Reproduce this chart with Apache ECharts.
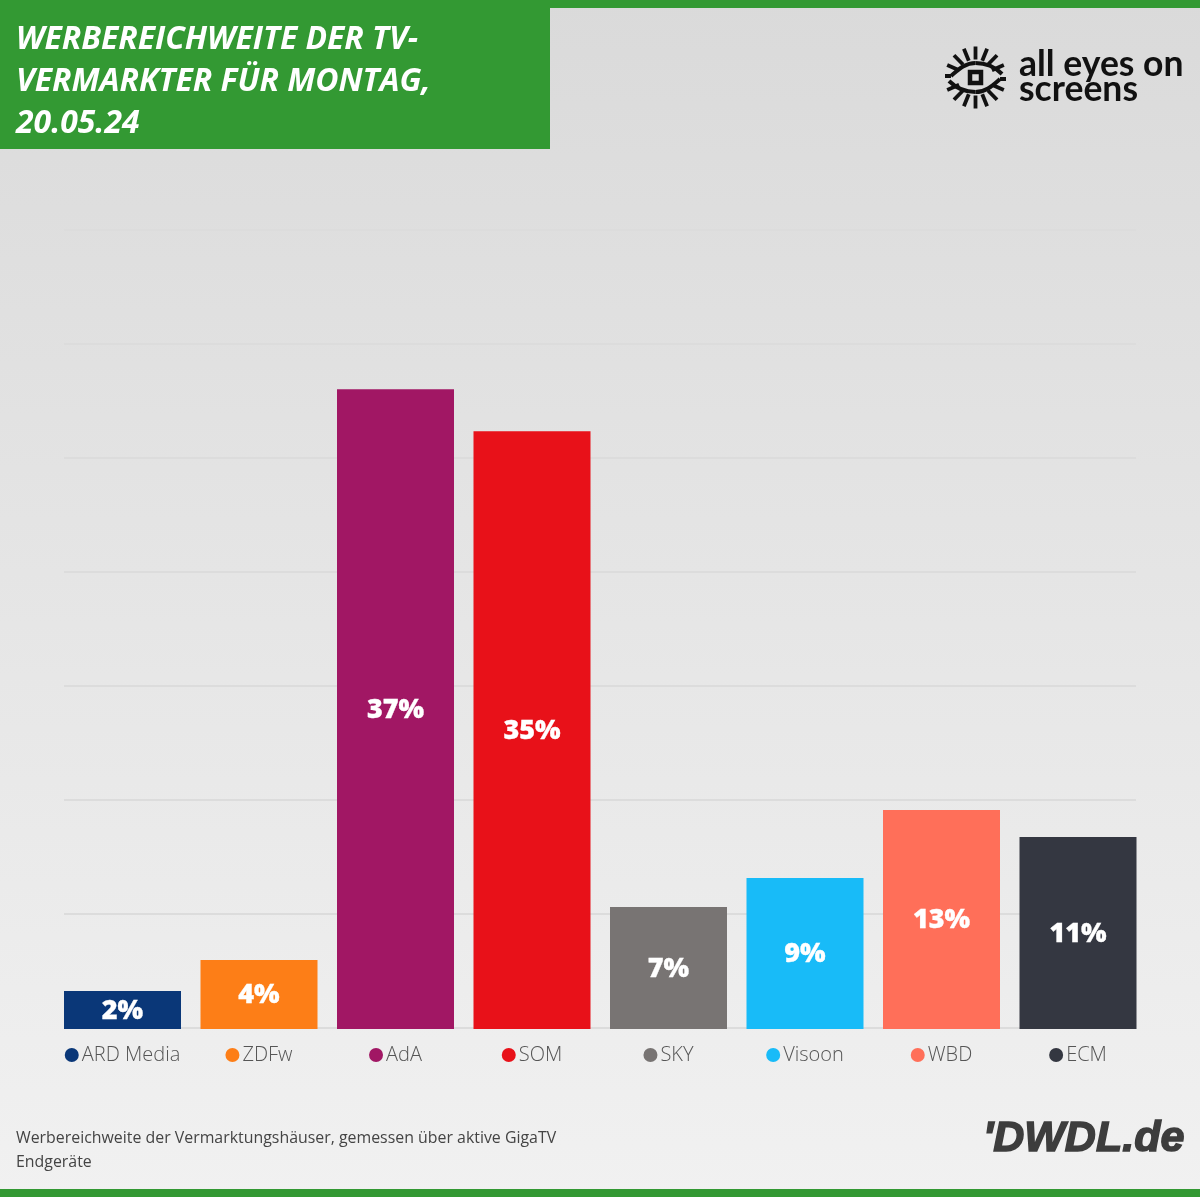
<!DOCTYPE html>
<html><head><meta charset="utf-8">
<style>html,body{margin:0;padding:0;background:#eee}#c{width:1200px;height:1197px}</style>
<script src="https://cdn.jsdelivr.net/npm/echarts@6/dist/echarts.min.js"></script>
</head><body><div id="c"></div>
<script>
const categories = ['ARD Media','ZDFw','AdA','SOM','SKY','Visoon','WBD','ECM'];
const values = [2.22,4.04,37.41,34.96,7.14,8.83,12.81,11.23];
const barLabels = ['2%','4%','37%','35%','7%','9%','13%','11%'];
const colors = ['#0a3778','#fd7e17','#a11764','#e81119','#787473','#18bbf8','#ff6f59','#343741'];
const titleLines = ['WERBEREICHWEITE DER TV-','VERMARKTER FÜR MONTAG,','20.05.24'];
const noteLines = ['Werbereichweite der Vermarktungshäuser, gemessen über aktive GigaTV','Endgeräte'];
const logoLines = ['all eyes on','screens'];
const brand = "'DWDL.de";

const chart = echarts.init(document.getElementById('c'), null, {renderer:'canvas', width:1200, height:1197});
const rich = {t:{fontFamily:'Open Sans',fontWeight:300,fontSize:20,color:'#555',padding:[0,0,0,3]}};
colors.forEach((c,i)=>{rich['d'+i]={width:14,height:14,borderRadius:7,backgroundColor:c};});

// eye logo pieces
const cx=975.5, cy=77.5, logo=[];
const ink='#111';
[-66,-44,-22,0,22,44,66].forEach(d=>{
  const a=(d-90)*Math.PI/180, r0=18, r1=31;
  [1,-1].forEach(s=>logo.push({type:'line',shape:{x1:cx+s*r0*Math.cos(a),y1:cy+s*r0*Math.sin(a),x2:cx+s*r1*Math.cos(a),y2:cy+s*r1*Math.sin(a)},style:{stroke:ink,lineWidth:3.8}}));
});
const curve=(x1,y1,cpx1,cpy1,cpx2,cpy2,x2,y2)=>({type:'bezierCurve',shape:{x1,y1,cpx1,cpy1,cpx2,cpy2,x2,y2},style:{fill:'none',stroke:ink,lineWidth:4}});
logo.push({type:'line',shape:{x1:945,y1:76,x2:951,y2:76},style:{stroke:ink,lineWidth:4}});
logo.push(curve(951,76,958,70,965,63,975.5,63));
logo.push(curve(975.5,63,987,63,996,68,1002,74));
logo.push({type:'line',shape:{x1:1006,y1:79,x2:1000,y2:79},style:{stroke:ink,lineWidth:4}});
logo.push(curve(1000,79,993,85,986,92,975.5,92));
logo.push(curve(975.5,92,964,92,955,87,949,81));
logo.push({type:'rect',shape:{x:cx-5.5,y:cy-5.5,width:11,height:11},style:{fill:'none',stroke:ink,lineWidth:4.5}});

chart.setOption({
  animation:false,
  backgroundColor:{type:'linear',x:0,y:0,x2:0,y2:1,colorStops:[{offset:0,color:'#dadada'},{offset:1,color:'#f1f1f1'}]},
  grid:[
    {left:54.25,top:231,width:1092,height:798},
    {left:64,top:230,width:1072,height:798}
  ],
  xAxis:[
    {type:'category',gridIndex:0,data:categories,axisLine:{show:false},axisTick:{show:false},
     axisLabel:{margin:16,interval:0,rich,formatter:(v)=>{const i=categories.indexOf(v);return `{d${i}|}{t|${v}}`;}}},
    {type:'category',gridIndex:1,data:categories,show:false}
  ],
  yAxis:[
    {type:'value',gridIndex:0,min:0,max:46.67,interval:6.667,show:false,splitLine:{show:false}},
    {type:'value',gridIndex:1,min:0,max:46.67,interval:6.667,axisLine:{show:false},axisTick:{show:false},axisLabel:{show:false},
     splitLine:{show:true,lineStyle:{color:'#dcdcdc',width:2}}}
  ],
  series:[
    {type:'bar',xAxisIndex:1,yAxisIndex:1,data:[],silent:true},
    {type:'bar',xAxisIndex:0,yAxisIndex:0,barWidth:117,
     data:values.map((v,i)=>({value:v,itemStyle:{color:colors[i]}})),
     label:{show:true,position:'inside',offset:[0,1],formatter:(p)=>barLabels[p.dataIndex],color:'#fff',fontFamily:'Open Sans',fontWeight:800,fontSize:27,textBorderColor:'#fff',textBorderWidth:0.3}}
  ],
  graphic:{elements:[
    {type:'rect',shape:{x:0,y:0,width:1200,height:8},style:{fill:'#339933'},z:10},
    {type:'rect',shape:{x:0,y:1189,width:1200,height:8},style:{fill:'#339933'},z:10},
    {type:'rect',shape:{x:0,y:0,width:550,height:149},style:{fill:'#339933'},z:10},
    ...titleLines.map((t,i)=>({type:'text',x:16,y:39.5+42*i,z:11,style:{text:t,fill:'#fff',font:'italic 700 31.9px "Open Sans"',textVerticalAlign:'middle'}})),
    ...noteLines.map((t,i)=>({type:'text',x:16,y:1138+24*i,z:11,style:{text:t,fill:'#444',font:'400 15.9px "Open Sans"',textVerticalAlign:'middle'}})),
    {type:'text',x:1019,y:65,z:11,style:{text:logoLines[0],fill:ink,font:'700 35.5px Lato',textVerticalAlign:'middle'}},
    {type:'text',x:1019,y:90,z:11,style:{text:logoLines[1],fill:ink,font:'700 35.5px Lato',textVerticalAlign:'middle'}},
    {type:'text',x:983,y:1139,z:11,style:{text:brand,fill:'#3d3d3d',stroke:'#3d3d3d',lineWidth:1.5,font:'italic 700 43px "Liberation Sans"',textVerticalAlign:'middle'}},
    ...logo.map(o=>Object.assign(o,{z:11}))
  ]}
});
</script></body></html>
